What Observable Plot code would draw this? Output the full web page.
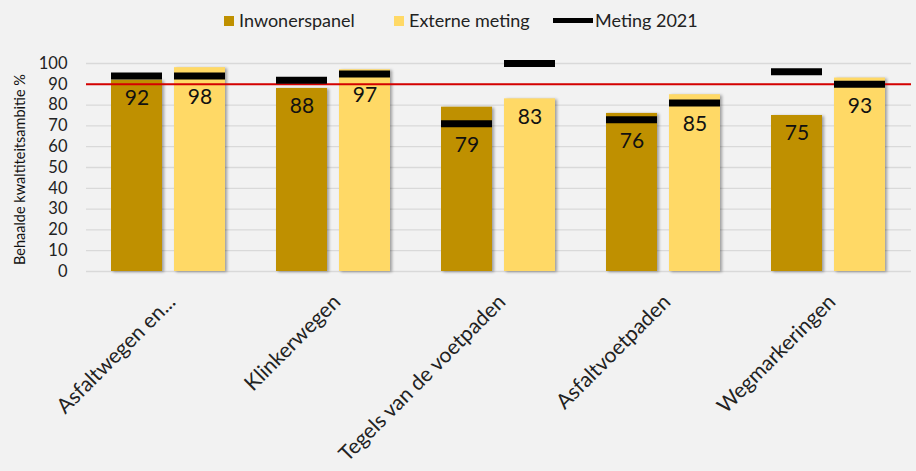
<!DOCTYPE html>
<html><head><meta charset="utf-8">
<script src="https://cdn.jsdelivr.net/npm/d3@7"></script>
<script src="https://cdn.jsdelivr.net/npm/@observablehq/plot@0.6"></script>
<style>
body{margin:0;background:#f2f2f2;font-family:Lato,"Noto Sans",sans-serif;}
#wrap{position:relative;width:916px;height:471px;overflow:hidden;}
#legend{position:relative;height:38px;}
.lt{position:absolute;top:10px;font-size:18px;color:#222;line-height:20px;white-space:nowrap;}
.sw{position:absolute;width:10px;height:10px;top:16px;}
.ln{position:absolute;width:40px;height:5px;top:18px;background:#000;}
#chart svg g[aria-label="bar"] rect{filter:drop-shadow(2px 1px 1.5px rgba(0,0,0,.35));}
</style></head>
<body><div id="wrap"><div id="legend"></div><div id="chart"></div></div>
<script>
const categories = ["Asfaltwegen en...", "Klinkerwegen", "Tegels van de voetpaden", "Asfaltvoetpaden", "Wegmarkeringen"];
const series = ["Inwonerspanel", "Externe meting"];
const inwonerspanel = [92, 88, 79, 76, 75];
const externeMeting = [98, 97, 83, 85, 93];
const meting2021Inwonerspanel = [94, 92, 71, 73, 96];
const meting2021Extern = [94, 95, 100, 81, 90];
const metingLabel = "Meting 2021";
const ambitie = 90;
const yTicks = [0, 10, 20, 30, 40, 50, 60, 70, 80, 90, 100];
const yTitle = "Behaalde kwaltiteitsambitie %";
const colors = ["#BF9000", "#FFD966"];

const rowsA = categories.map((c, i) => ({cat: c, serie: series[0], value: inwonerspanel[i], meting: meting2021Inwonerspanel[i]}));
const rowsB = categories.map((c, i) => ({cat: c, serie: series[1], value: externeMeting[i], meting: meting2021Extern[i]}));

// legend
const legend = document.getElementById("legend");
legend.innerHTML =
  `<div class="sw" style="left:224px;background:${colors[0]}"></div><div class="lt" style="left:239px">${series[0]}</div>` +
  `<div class="sw" style="left:394px;background:${colors[1]}"></div><div class="lt" style="left:409px">${series[1]}</div>` +
  `<div class="ln" style="left:553px"></div><div class="lt" style="left:595px">${metingLabel}</div>`;

// pixel layout inside each 165px category band
const sideA = {insetLeft: 25, insetRight: 89};
const sideB = {insetLeft: 88, insetRight: 26};
const labelY = d => Math.min(d.value, d.meting - 1.8);

const chart = Plot.plot({
  width: 916,
  height: 433,
  marginLeft: 86,
  marginRight: 5,
  marginTop: 25,
  marginBottom: 200,
  style: {background: "transparent", fontFamily: "Lato, 'Noto Sans', sans-serif", color: "#222"},
  x: {domain: categories, padding: 0, label: null},
  y: {domain: [0, 100], label: null},
  color: {domain: series, range: colors},
  marks: [
    Plot.ruleY(yTicks, {stroke: "#d9d9d9", strokeWidth: 1.3}),
    Plot.barY(rowsA, {x: "cat", y: "value", fill: "serie", ...sideA}),
    Plot.barY(rowsB, {x: "cat", y: "value", fill: "serie", ...sideB}),
    Plot.ruleY([ambitie], {stroke: "#d40000", strokeWidth: 2}),
    Plot.tickY(rowsA, {x: "cat", y: "meting", stroke: "#000", strokeWidth: 7, ...sideA}),
    Plot.tickY(rowsB, {x: "cat", y: "meting", stroke: "#000", strokeWidth: 7, ...sideB}),
    Plot.text(rowsA, {x: "cat", y: labelY, dx: -32, dy: 18, text: d => String(d.value), fontSize: 21, fill: "#111"}),
    Plot.text(rowsB, {x: "cat", y: labelY, dx: 31, dy: 18, text: d => String(d.value), fontSize: 21, fill: "#111"}),
    Plot.axisY({ticks: yTicks, tickSize: 0, tickPadding: 19, fontSize: 16.5, label: null}),
    Plot.axisX({tickRotate: -45, tickSize: 0, tickPadding: 27, dx: 3, fontSize: 21, label: null}),
    Plot.text([yTitle], {text: d => d, frameAnchor: "left", textAnchor: "middle", rotate: -90, dx: -66, dy: 2, fontSize: 14.5, fill: "#111"})
  ]
});
document.getElementById("chart").append(chart);
</script>
</body></html>
